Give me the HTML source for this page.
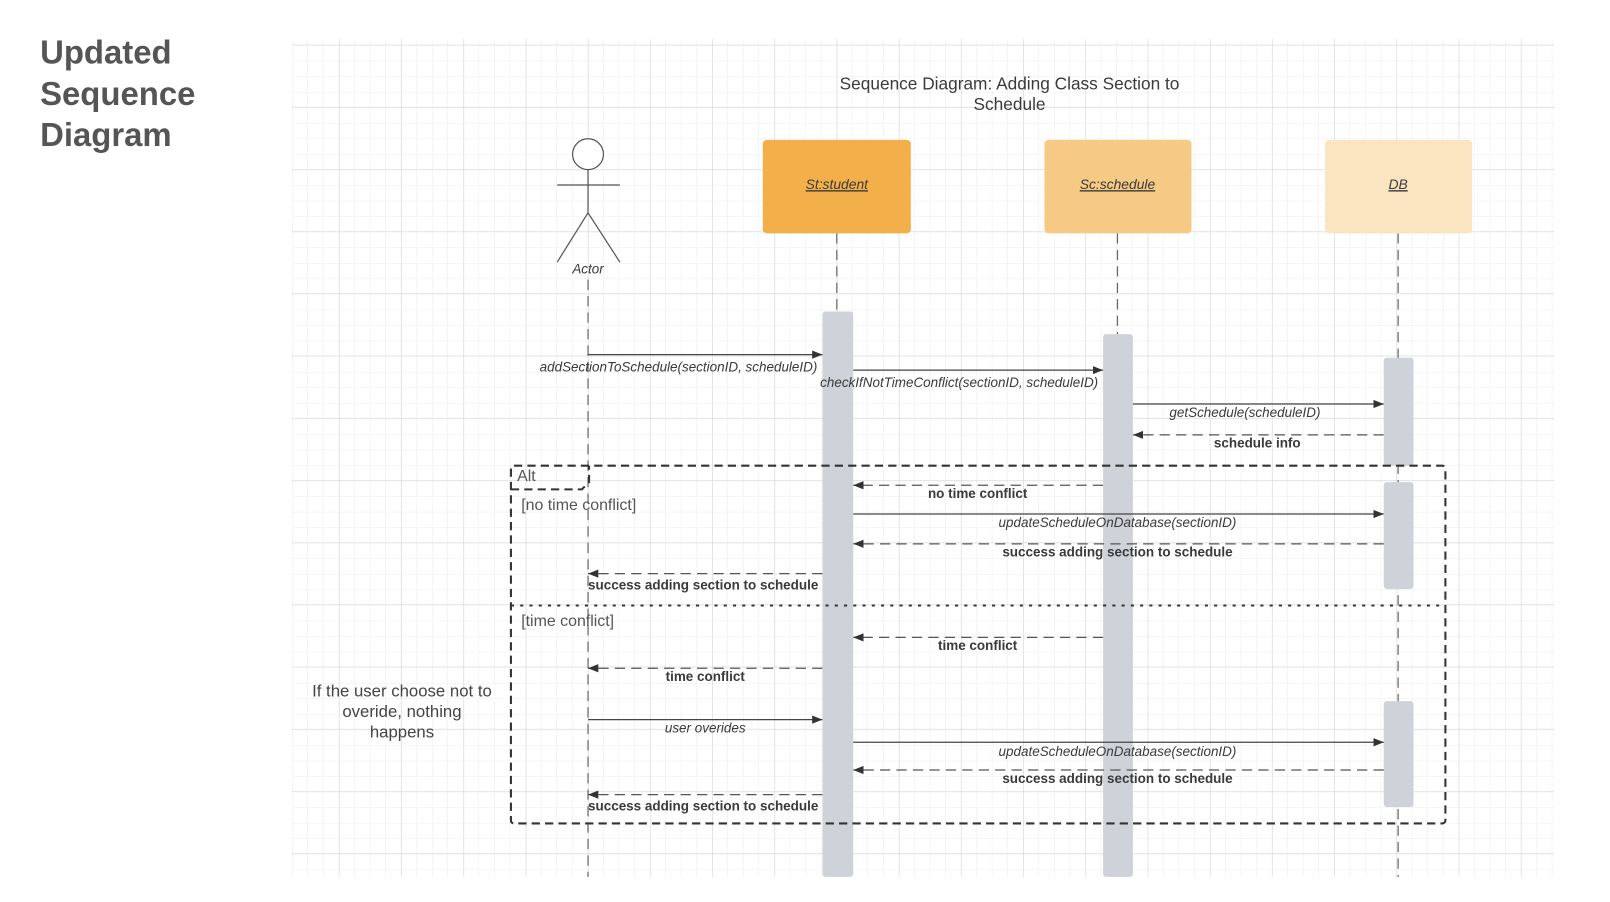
<!DOCTYPE html>
<html><head><meta charset="utf-8"><style>
html,body{margin:0;padding:0;background:#fff;width:1610px;height:902px;overflow:hidden}
svg{display:block}
text{font-family:"Liberation Sans",Arial,sans-serif;fill:#3a3a3a}
.it{font-style:italic;font-size:13.1px}
.b{font-weight:bold;font-size:13.1px}
</style></head><body>
<svg width="1610" height="902" viewBox="0 0 1566.1 877.4" xmlns="http://www.w3.org/2000/svg">
<defs>
<pattern id="minor" x="284" y="44" width="15.13" height="15.13" patternUnits="userSpaceOnUse">
<path d="M0 0V15.13M0 0H15.13" stroke="#e8e8e8" stroke-width="0.8" fill="none"/>
</pattern>
<pattern id="major" x="330" y="104" width="60.5" height="60.5" patternUnits="userSpaceOnUse">
<path d="M0 0V60.5M0 0H60.5" stroke="#d6d6d6" stroke-width="0.9" fill="none"/>
</pattern>
<marker id="a" markerWidth="10" markerHeight="8" refX="10" refY="4" orient="auto" markerUnits="userSpaceOnUse">
<path d="M0 0L10 4L0 8z" fill="#333"/>
</marker>
</defs>
<rect x="284" y="38" width="1228" height="815" fill="url(#minor)"/>
<rect x="284" y="38" width="1228" height="815" fill="url(#major)"/>

<text x="39" y="62" style="font-size:32px;font-weight:bold;fill:#555">Updated</text>
<text x="39" y="102" style="font-size:32px;font-weight:bold;fill:#555">Sequence</text>
<text x="39" y="142" style="font-size:32px;font-weight:bold;fill:#555">Diagram</text>

<text x="982" y="87" text-anchor="middle" style="font-size:16.8px">Sequence Diagram: Adding Class Section to</text>
<text x="982" y="107" text-anchor="middle" style="font-size:16.8px">Schedule</text>

<g stroke="#555" stroke-width="1.2" fill="none">
<circle cx="572" cy="150" r="15" fill="#fff"/>
<path d="M572 165V207M542 180H603M572 207L542 255M572 207L603 255"/>
</g>
<text x="572" y="266" text-anchor="middle" class="it">Actor</text>

<g stroke="#666" stroke-width="1.2" stroke-dasharray="10,6" fill="none">
<path d="M572 272V853M814 227V303M1087 227V325M1360 227V853"/>
</g>

<rect x="742" y="136" width="144" height="91" rx="4" fill="#f3b04a"/>
<rect x="1016" y="136" width="143" height="91" rx="4" fill="#f6ca85"/>
<rect x="1289" y="136" width="143" height="91" rx="4" fill="#fbe5c1"/>
<text x="814" y="184" text-anchor="middle" class="it" text-decoration="underline" style="font-size:13.5px">St:student</text>
<text x="1087" y="184" text-anchor="middle" class="it" text-decoration="underline" style="font-size:13.5px">Sc:schedule</text>
<text x="1360" y="184" text-anchor="middle" class="it" text-decoration="underline" style="font-size:13.5px">DB</text>

<g fill="#cfd3d9">
<rect x="800" y="303" width="30" height="550" rx="3"/>
<rect x="1073" y="325" width="29" height="528" rx="3"/>
<rect x="1346" y="348" width="29" height="105" rx="3"/>
<rect x="1346" y="469" width="29" height="104" rx="3"/>
<rect x="1346" y="682" width="29" height="103" rx="3"/>
</g>

<g fill="none" stroke="#333" stroke-width="2">
<rect x="497" y="453" width="909" height="348" rx="3" stroke-dasharray="8,5"/>
<path d="M497 476H566L573 469V453" stroke-dasharray="8,5"/>
<path d="M497 589H1406" stroke-dasharray="3,6"/>
</g>
<text x="503" y="468" style="font-size:15.5px;fill:#555">Alt</text>
<text x="507" y="496" style="font-size:15.5px;fill:#555">[no time conflict]</text>
<text x="507" y="609" style="font-size:15.5px;fill:#555">[time conflict]</text>

<g stroke="#444" stroke-width="1.2" fill="none" marker-end="url(#a)">
<path d="M572 345H800"/>
<path d="M830 360H1073"/>
<path d="M1102 393H1346"/>
<path d="M830 500H1346"/>
<path d="M572 700H800"/>
<path d="M830 722H1346"/>
</g>
<g stroke="#555" stroke-width="1.2" fill="none" stroke-dasharray="10,6" marker-end="url(#a)">
<path d="M1346 423H1102"/>
<path d="M1073 472H830"/>
<path d="M1346 529H830"/>
<path d="M800 558H572"/>
<path d="M1073 620H830"/>
<path d="M800 650H572"/>
<path d="M1346 749H830"/>
<path d="M800 773H572"/>
</g>

<g text-anchor="middle" dominant-baseline="middle">
<text x="660" y="358" class="it">addSectionToSchedule(sectionID, scheduleID)</text>
<text x="933" y="373" class="it">checkIfNotTimeConflict(sectionID, scheduleID)</text>
<text x="1211" y="402" class="it">getSchedule(scheduleID)</text>
<text x="1223" y="432" class="b">schedule info</text>
<text x="951" y="481" class="b">no time conflict</text>
<text x="1087" y="509" class="it">updateScheduleOnDatabase(sectionID)</text>
<text x="1087" y="538" class="b">success adding section to schedule</text>
<text x="684" y="570" class="b">success adding section to schedule</text>
<text x="951" y="629" class="b">time conflict</text>
<text x="686" y="659" class="b">time conflict</text>
<text x="686" y="709" class="it">user overides</text>
<text x="1087" y="732" class="it">updateScheduleOnDatabase(sectionID)</text>
<text x="1087" y="758" class="b">success adding section to schedule</text>
<text x="684" y="785" class="b">success adding section to schedule</text>
<text x="391" y="673" style="font-size:16.3px;fill:#444">If the user choose not to</text>
<text x="391" y="693" style="font-size:16.3px;fill:#444">overide, nothing</text>
<text x="391" y="713" style="font-size:16.3px;fill:#444">happens</text>
</g>
</svg>
</body></html>
